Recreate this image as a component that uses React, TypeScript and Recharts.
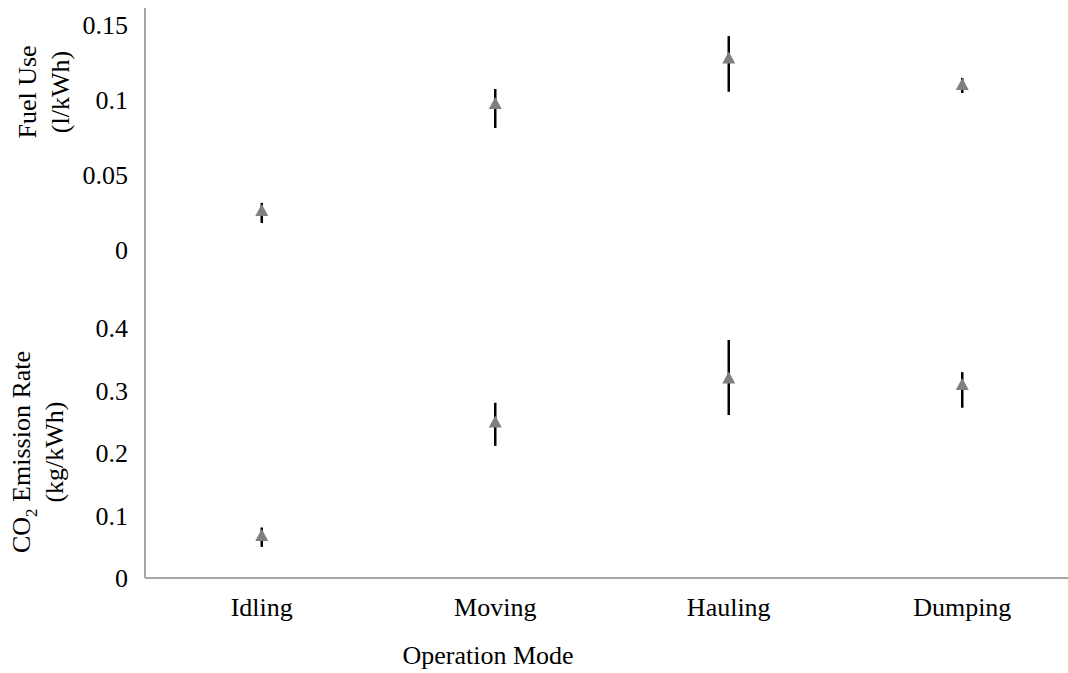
import { ErrorBar, Label, Scatter, ScatterChart, XAxis, YAxis } from "recharts";

const categories = ["Idling", "Moving", "Hauling", "Dumping"];
const fuelUse = [0.0267, 0.098, 0.1283, 0.1107];
const fuelErrLow = [0.0087, 0.0167, 0.0228, 0.006];
const fuelErrHigh = [0.0047, 0.0093, 0.0143, 0.004];
const co2Rate = [0.0688, 0.2504, 0.3208, 0.3104];
const co2ErrLow = [0.019, 0.039, 0.06, 0.038];
const co2ErrHigh = [0.012, 0.03, 0.06, 0.019];
const fuelTicks = [0, 0.05, 0.1, 0.15];
const co2Ticks = [0, 0.1, 0.2, 0.3, 0.4];

const fuelData = categories.map((name, i) => ({
  x: i,
  name,
  y: fuelUse[i],
  err: [fuelErrLow[i], fuelErrHigh[i]],
}));
const co2Data = categories.map((name, i) => ({
  x: i,
  name,
  y: co2Rate[i],
  err: [co2ErrLow[i], co2ErrHigh[i]],
}));

const FONT = "Liberation Serif";
const AXIS = "#8a8a8a";
const tickStyle = { fontSize: 26, fill: "#000", fontFamily: FONT };

const Triangle = (props: any) => {
  const { cx, cy } = props;
  if (cx == null || cy == null) return null;
  return (
    <polygon
      points={`${cx},${cy - 6} ${cx + 6.5},${cy + 6} ${cx - 6.5},${cy + 6}`}
      fill="#7f7f7f"
    />
  );
};

const xDomain: [number, number] = [-0.5, 3.5];

export default function App() {
  return (
    <div
      style={{
        position: "absolute",
        left: 0,
        top: 0,
        width: 1068,
        height: 673,
        overflow: "hidden",
        background: "#fff",
        fontFamily: FONT,
      }}
    >
      <style>{`svg text, svg tspan { font-family: "Liberation Serif", serif !important; }`}</style>
      {/* upper panel: fuel use */}
      <div style={{ position: "absolute", left: 0, top: 0 }}>
        <ScatterChart width={1079} height={290} margin={{ top: 8, right: 0, bottom: 0, left: 0 }}>
          <XAxis
            type="number"
            dataKey="x"
            orientation="top"
            domain={xDomain}
            ticks={[0, 1, 2, 3]}
            tick={false}
            tickLine={false}
            height={0}
            axisLine={{ stroke: AXIS, strokeWidth: 1.5 }}
          />
          <YAxis
            type="number"
            dataKey="y"
            domain={[-0.02667, 0.16133]}
            allowDataOverflow
            ticks={fuelTicks}
            width={145}
            tickLine={false}
            tickSize={0}
            tickMargin={17}
            tick={tickStyle}
            axisLine={{ stroke: AXIS, strokeWidth: 1.5 }}
          >
            <Label
              content={() => (
                <text
                  transform="translate(44, 92) rotate(-90)"
                  textAnchor="middle"
                  fontSize={26}
                  fill="#000"
                >
                  <tspan x={0} dy={-8}>Fuel Use</tspan>
                  <tspan x={0} dy={33}>(l/kWh)</tspan>
                </text>
              )}
            />
          </YAxis>
          <Scatter data={fuelData} shape={<Triangle />} isAnimationActive={false}>
            <ErrorBar dataKey="err" direction="y" width={0} stroke="#000" strokeWidth={2.5} />
          </Scatter>
        </ScatterChart>
      </div>

      {/* lower panel: CO2 emission rate */}
      <div style={{ position: "absolute", left: 0, top: 290 }}>
        <ScatterChart width={1079} height={383} margin={{ top: 0, right: 0, bottom: 0, left: 0 }}>
          <XAxis
            type="number"
            dataKey="x"
            domain={xDomain}
            ticks={[0, 1, 2, 3]}
            tickFormatter={(v: number) => categories[v] ?? ""}
            tickLine={false}
            tickSize={0}
            tickMargin={20}
            tick={tickStyle}
            height={95}
            axisLine={{ stroke: AXIS, strokeWidth: 1.5 }}
          >
            <Label
              content={() => (
                <text x={488} y={374} textAnchor="middle" fontSize={26} fill="#000">
                  Operation Mode
                </text>
              )}
            />
          </XAxis>
          <YAxis
            type="number"
            dataKey="y"
            domain={[0, 0.4608]}
            allowDataOverflow
            ticks={co2Ticks}
            width={145}
            tickLine={false}
            tickSize={0}
            tickMargin={17}
            tick={tickStyle}
            axisLine={{ stroke: AXIS, strokeWidth: 1.5 }}
          >
            <Label
              content={() => (
                <text
                  transform="translate(38, 162) rotate(-90)"
                  textAnchor="middle"
                  fontSize={26}
                  fill="#000"
                >
                  <tspan x={0} dy={-8}>
                    CO
                    <tspan fontSize={17} dy={7}>2</tspan>
                    <tspan dy={-7}> Emission Rate</tspan>
                  </tspan>
                  <tspan x={0} dy={33}>(kg/kWh)</tspan>
                </text>
              )}
            />
          </YAxis>
          <Scatter data={co2Data} shape={<Triangle />} isAnimationActive={false}>
            <ErrorBar dataKey="err" direction="y" width={0} stroke="#000" strokeWidth={2.5} />
          </Scatter>
        </ScatterChart>
      </div>
    </div>
  );
}
